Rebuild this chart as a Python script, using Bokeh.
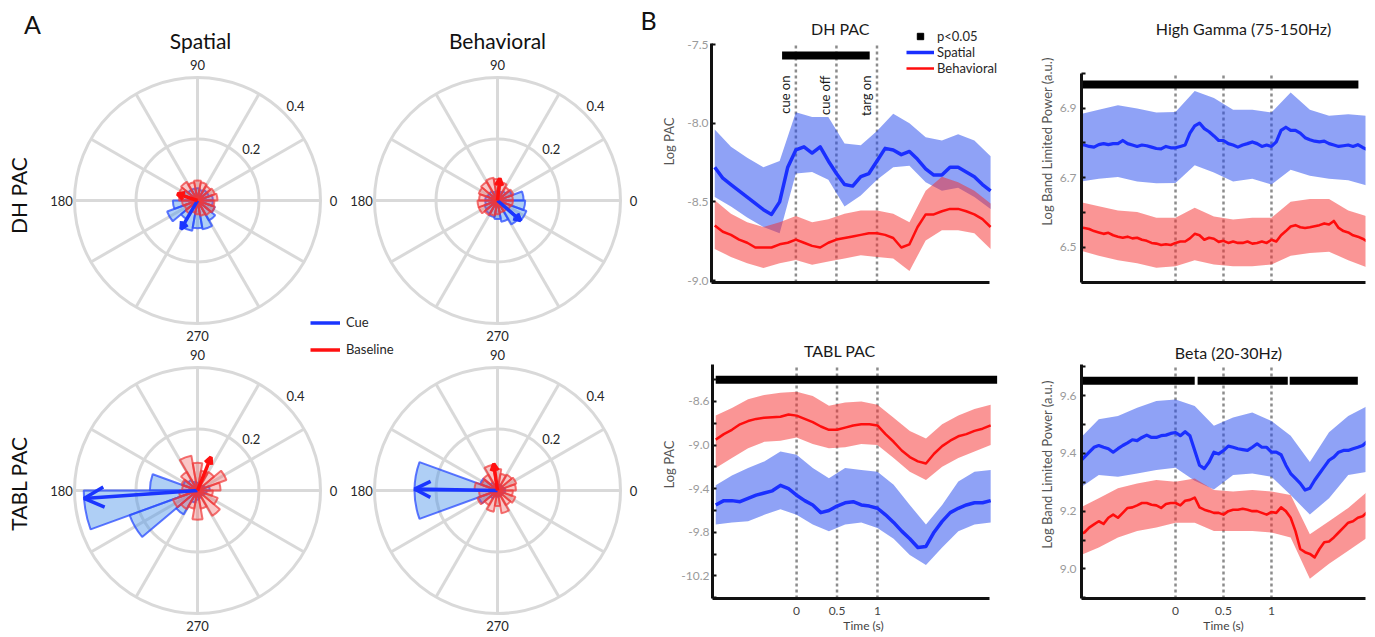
import numpy as np
from bokeh.plotting import figure
from bokeh.layouts import row, column
from bokeh.models import (Range1d, Label, Legend, LegendItem, FixedTicker,
                          PrintfTickFormatter, NumeralTickFormatter, Arrow, OpenHead)
from bokeh.embed import file_html
from bokeh.resources import INLINE
from bokeh.core.properties import value

FONT = "Lato"
TXT = "#262626"

# ===================== DATA =====================
# ---- A: polar rose histograms (18 bins of 20 deg) ----
bin_edges_deg = [0, 20, 40, 60, 80, 100, 120, 140, 160, 180, 200, 220, 240, 260, 280, 300, 320, 340, 360]
ring_r = [0.2, 0.4]
ring_labels = ["0.2", "0.4"]
spoke_deg = [0, 30, 60, 90, 120, 150, 180, 210, 240, 270, 300, 330]
angle_ticks = [0, 90, 180, 270]
angle_tick_labels = ["0", "90", "180", "270"]

cue_dh_spatial = [0.05, 0.04, 0.04, 0.035, 0.04, 0.04, 0.04, 0.05, 0.055,
                  0.08, 0.105, 0.07, 0.10, 0.09, 0.095, 0.075, 0.06, 0.05]
base_dh_spatial = [0.065, 0.06, 0.055, 0.06, 0.065, 0.06, 0.07, 0.065, 0.06,
                   0.05, 0.045, 0.05, 0.04, 0.045, 0.05, 0.055, 0.06, 0.055]
cue_dh_behav = [0.085, 0.05, 0.035, 0.03, 0.03, 0.03, 0.035, 0.035, 0.04,
                0.04, 0.045, 0.05, 0.055, 0.06, 0.07, 0.09, 0.10, 0.09]
base_dh_behav = [0.05, 0.055, 0.05, 0.06, 0.07, 0.075, 0.07, 0.065, 0.06,
                 0.065, 0.065, 0.055, 0.05, 0.045, 0.04, 0.04, 0.045, 0.05]
cue_tabl_spatial = [0.04, 0.025, 0.02, 0.02, 0.025, 0.03, 0.04, 0.05, 0.155,
                    0.37, 0.235, 0.09, 0.04, 0.03, 0.025, 0.02, 0.025, 0.03]
base_tabl_spatial = [0.075, 0.10, 0.07, 0.065, 0.09, 0.115, 0.07, 0.055, 0.05,
                     0.06, 0.085, 0.07, 0.06, 0.095, 0.06, 0.095, 0.07, 0.05]
cue_tabl_behav = [0.025, 0.02, 0.02, 0.02, 0.02, 0.02, 0.03, 0.06, 0.27,
                  0.27, 0.065, 0.03, 0.02, 0.02, 0.02, 0.02, 0.02, 0.025]
base_tabl_behav = [0.06, 0.065, 0.06, 0.055, 0.07, 0.085, 0.06, 0.055, 0.075,
                   0.06, 0.07, 0.055, 0.07, 0.05, 0.075, 0.055, 0.062, 0.05]

# mean-vector arrows: [DH spatial, DH behavioral, TABL spatial, TABL behavioral]
cue_arrow_deg = [240, 319, 184, 179]
cue_arrow_len = [0.107, 0.10, 0.37, 0.27]
base_arrow_deg = [162, 84, 68, 98]
base_arrow_len = [0.069, 0.072, 0.117, 0.088]

# ---- B: time courses ----
t_left = np.round(np.arange(-1.0, 2.401, 0.1), 2)      # 35 samples
tb_left = np.round(np.arange(-1.0, 2.401, 0.2), 2)     # 18 samples (error bands)
t_right = np.round(np.arange(-1.0, 2.001, 0.05), 2)    # 61 samples
tb_right = np.round(np.arange(-1.0, 2.001, 0.2), 2)    # 16 samples (error bands)

event_t = [0.0, 0.5, 1.0]
event_names = ["cue on", "cue off", "targ on"]

dh_sp_mean = [-8.28, -8.35, -8.39, -8.43, -8.47, -8.51, -8.55, -8.58, -8.50, -8.28,
              -8.17, -8.15, -8.19, -8.15, -8.24, -8.32, -8.39, -8.40, -8.34, -8.32,
              -8.24, -8.16, -8.17, -8.20, -8.18, -8.23, -8.29, -8.33, -8.33, -8.28,
              -8.28, -8.31, -8.34, -8.39, -8.43]
dh_bh_mean = [-8.65, -8.69, -8.71, -8.74, -8.76, -8.79, -8.79, -8.79, -8.77, -8.76,
              -8.74, -8.76, -8.78, -8.79, -8.76, -8.74, -8.73, -8.72, -8.71, -8.70,
              -8.70, -8.71, -8.73, -8.79, -8.77, -8.66, -8.58, -8.58, -8.56, -8.545,
              -8.545, -8.56, -8.58, -8.61, -8.66]
dh_sp_hi = [-8.04, -8.15, -8.22, -8.28, -8.24, -7.93, -7.96, -7.96, -8.13, -8.14,
            -8.05, -7.94, -8.00, -8.09, -8.11, -8.07, -8.11, -8.21]
dh_sp_lo = [-8.47, -8.53, -8.60, -8.66, -8.70, -8.32, -8.31, -8.36, -8.53, -8.46,
            -8.36, -8.28, -8.27, -8.375, -8.43, -8.41, -8.47, -8.545]
dh_bh_hi = [-8.49, -8.575, -8.63, -8.66, -8.63, -8.59, -8.63, -8.61, -8.575, -8.555,
            -8.555, -8.575, -8.63, -8.43, -8.34, -8.375, -8.43, -8.51]
dh_bh_lo = [-8.80, -8.85, -8.89, -8.92, -8.89, -8.87, -8.90, -8.88, -8.86, -8.84,
            -8.85, -8.86, -8.94, -8.745, -8.68, -8.68, -8.70, -8.80]

tabl_sp_mean = [-9.55, -9.51, -9.51, -9.52, -9.49, -9.46, -9.44, -9.42, -9.37, -9.40,
                -9.46, -9.51, -9.55, -9.62, -9.60, -9.56, -9.53, -9.52, -9.55, -9.56,
                -9.58, -9.64, -9.71, -9.79, -9.86, -9.94, -9.93, -9.80, -9.70, -9.62,
                -9.58, -9.55, -9.53, -9.53, -9.51]
tabl_bh_mean = [-8.95, -8.90, -8.86, -8.81, -8.78, -8.76, -8.75, -8.745, -8.74, -8.72,
                -8.73, -8.76, -8.79, -8.83, -8.86, -8.86, -8.84, -8.82, -8.81, -8.81,
                -8.82, -8.90, -8.97, -9.05, -9.11, -9.15, -9.17, -9.08, -9.01, -8.96,
                -8.92, -8.90, -8.87, -8.85, -8.82]
tabl_sp_hi = [-9.37, -9.28, -9.21, -9.15, -9.06, -9.09, -9.21, -9.305, -9.21, -9.23,
              -9.245, -9.365, -9.55, -9.73, -9.55, -9.335, -9.245, -9.23]
tabl_sp_lo = [-9.73, -9.71, -9.70, -9.64, -9.59, -9.64, -9.73, -9.79, -9.73, -9.71,
              -9.76, -9.86, -10.01, -10.10, -9.94, -9.79, -9.73, -9.71]
tabl_bh_hi = [-8.73, -8.66, -8.58, -8.54, -8.52, -8.51, -8.55, -8.64, -8.61, -8.60,
              -8.63, -8.75, -8.87, -8.94, -8.81, -8.73, -8.67, -8.63]
tabl_bh_lo = [-9.21, -9.12, -9.03, -8.97, -8.96, -8.93, -8.99, -9.03, -9.02, -8.99,
              -9.00, -9.12, -9.245, -9.32, -9.20, -9.12, -9.06, -9.00]

hg_sp_mean = [6.794, 6.794, 6.790, 6.788, 6.795, 6.798, 6.795, 6.798, 6.798, 6.807,
              6.798, 6.794, 6.790, 6.794, 6.792, 6.788, 6.784, 6.783, 6.790, 6.786,
              6.786, 6.790, 6.794, 6.828, 6.849, 6.857, 6.841, 6.832, 6.820, 6.807,
              6.807, 6.798, 6.794, 6.788, 6.794, 6.798, 6.803, 6.798, 6.790, 6.794,
              6.790, 6.803, 6.836, 6.845, 6.836, 6.836, 6.828, 6.815, 6.809, 6.805,
              6.803, 6.805, 6.798, 6.794, 6.790, 6.792, 6.794, 6.790, 6.795, 6.787,
              6.781]
hg_bh_mean = [6.558, 6.556, 6.553, 6.547, 6.543, 6.539, 6.542, 6.535, 6.531, 6.528,
              6.531, 6.526, 6.528, 6.522, 6.519, 6.513, 6.511, 6.507, 6.509, 6.507,
              6.513, 6.517, 6.517, 6.526, 6.539, 6.535, 6.522, 6.528, 6.525, 6.516,
              6.519, 6.513, 6.517, 6.513, 6.513, 6.517, 6.511, 6.513, 6.517, 6.513,
              6.522, 6.517, 6.535, 6.547, 6.560, 6.564, 6.558, 6.556, 6.558, 6.561,
              6.564, 6.569, 6.566, 6.576, 6.556, 6.547, 6.543, 6.535, 6.531, 6.525,
              6.517]
hg_sp_hi = [6.882, 6.895, 6.908, 6.899, 6.887, 6.889, 6.949, 6.929, 6.895, 6.895,
            6.887, 6.945, 6.895, 6.878, 6.882, 6.878]
hg_sp_lo = [6.689, 6.697, 6.702, 6.689, 6.684, 6.685, 6.736, 6.715, 6.689, 6.697,
            6.681, 6.723, 6.706, 6.697, 6.693, 6.677]
hg_bh_hi = [6.631, 6.618, 6.606, 6.602, 6.585, 6.585, 6.614, 6.589, 6.580, 6.585,
            6.585, 6.631, 6.639, 6.639, 6.606, 6.589]
hg_bh_lo = [6.492, 6.476, 6.463, 6.455, 6.442, 6.446, 6.463, 6.451, 6.446, 6.446,
            6.451, 6.476, 6.484, 6.488, 6.463, 6.442]

beta_sp_mean = [9.370, 9.387, 9.404, 9.421, 9.427, 9.421, 9.416, 9.404, 9.416, 9.427,
                9.436, 9.447, 9.444, 9.455, 9.463, 9.455, 9.455, 9.461, 9.463, 9.469,
                9.472, 9.461, 9.475, 9.461, 9.410, 9.359, 9.347, 9.370, 9.404, 9.398,
                9.410, 9.425, 9.421, 9.416, 9.413, 9.410, 9.421, 9.433, 9.421, 9.421,
                9.404, 9.404, 9.395, 9.359, 9.330, 9.313, 9.296, 9.273, 9.279, 9.307,
                9.330, 9.353, 9.376, 9.387, 9.404, 9.410, 9.410, 9.416, 9.421, 9.427,
                9.441]
beta_bh_mean = [9.120, 9.126, 9.143, 9.154, 9.165, 9.156, 9.177, 9.188, 9.177, 9.194,
                9.211, 9.213, 9.220, 9.228, 9.228, 9.222, 9.220, 9.211, 9.225, 9.228,
                9.228, 9.220, 9.236, 9.239, 9.247, 9.213, 9.205, 9.200, 9.194, 9.194,
                9.188, 9.200, 9.205, 9.205, 9.208, 9.205, 9.200, 9.200, 9.194, 9.188,
                9.197, 9.194, 9.213, 9.200, 9.177, 9.131, 9.069, 9.058, 9.052, 9.040,
                9.069, 9.092, 9.095, 9.109, 9.126, 9.143, 9.160, 9.165, 9.177, 9.182,
                9.197]
beta_sp_hi = [9.450, 9.518, 9.529, 9.558, 9.581, 9.586, 9.564, 9.495, 9.524, 9.541,
              9.512, 9.461, 9.370, 9.473, 9.529, 9.564]
beta_sp_lo = [9.279, 9.325, 9.319, 9.330, 9.342, 9.350, 9.305, 9.275, 9.325, 9.330,
              9.319, 9.256, 9.188, 9.245, 9.325, 9.336]
beta_bh_hi = [9.211, 9.245, 9.279, 9.296, 9.308, 9.302, 9.313, 9.273, 9.268, 9.273,
              9.268, 9.256, 9.120, 9.165, 9.211, 9.268]
beta_bh_lo = [9.046, 9.074, 9.109, 9.131, 9.143, 9.160, 9.160, 9.131, 9.131, 9.131,
              9.126, 9.109, 8.966, 9.018, 9.063, 9.109]

# significance (p<0.05) intervals
sig_dh_start, sig_dh_end, sig_dh_y = [-0.17], [0.91], -7.57
sig_hg_start, sig_hg_end, sig_hg_y = [-0.99], [1.906], 6.968
sig_tabl_start, sig_tabl_end, sig_tabl_y = [-1.0], [2.48], -8.40
sig_beta_start, sig_beta_end, sig_beta_y = [-0.98, 0.23, 1.19], [0.20, 1.17, 1.90], 9.651

# ===================== STYLE =====================
GRID = "#d9d9d9"
CUE_FILL, CUE_LINE, CUE_ARROW = "#4d94e8", "#2a4bff", "#1a35ff"
BASE_FILL, BASE_LINE, BASE_ARROW = "#f05050", "#f03838", "#ff1010"
LINE_BLUE, BAND_BLUE = "#1a2fff", "#1f45ee"
LINE_RED, BAND_RED = "#ff0d0d", "#f52c2c"

# ===================== PANEL A: POLAR =====================
S = 307.5                    # pixels per unit of vector length
PW, PH = 658, 635
pol = figure(width=PW, height=PH, x_range=Range1d(0, PW / S), y_range=Range1d(0, PH / S),
             x_axis_type=None, y_axis_type=None, toolbar_location=None,
             output_backend="svg", min_border=0, outline_line_color=None)


def P(px, py):
    return px / S, (PH - py) / S


polar_sets = [((197, 200), cue_dh_spatial, base_dh_spatial),
              ((497, 200), cue_dh_behav, base_dh_behav),
              ((197, 490), cue_tabl_spatial, base_tabl_spatial),
              ((497, 490), cue_tabl_behav, base_tabl_behav)]

edges = np.deg2rad(bin_edges_deg)
r_out = max(ring_r)
cx_all, cy_all = [], []
for i, (cpx, cue, base) in enumerate(polar_sets):
    cx, cy = P(*cpx)
    cx_all.append(cx)
    cy_all.append(cy)
    pol.circle(x=[cx] * len(ring_r), y=[cy] * len(ring_r), radius=ring_r,
               fill_color=None, line_color=GRID, line_width=3)
    sa = np.deg2rad(spoke_deg)
    pol.segment(x0=[cx] * len(sa), y0=[cy] * len(sa), x1=cx + r_out * np.cos(sa),
                y1=cy + r_out * np.sin(sa), line_color=GRID, line_width=3)
    pol.wedge(x=[cx] * len(cue), y=[cy] * len(cue), radius=cue,
              start_angle=edges[:-1], end_angle=edges[1:],
              fill_color=CUE_FILL, fill_alpha=0.45, line_color=CUE_LINE,
              line_alpha=0.75, line_width=2)
    pol.wedge(x=[cx] * len(base), y=[cy] * len(base), radius=base,
              start_angle=edges[:-1], end_angle=edges[1:],
              fill_color=BASE_FILL, fill_alpha=0.32, line_color=BASE_LINE,
              line_alpha=0.7, line_width=2)
    ta = np.deg2rad(angle_ticks)
    pol.text(x=cx + 0.442 * np.cos(ta), y=cy + 0.442 * np.sin(ta), text=angle_tick_labels,
             text_align="center", text_baseline="middle", text_font=value(FONT),
             text_font_size="13px", text_color=TXT)
    ra = np.deg2rad(44)
    rr = np.array(ring_r) + 0.043
    pol.text(x=cx + rr * np.cos(ra), y=cy + rr * np.sin(ra), text=ring_labels,
             text_align="center", text_baseline="middle", text_font=value(FONT),
             text_font_size="13px", text_color=TXT)

cx_all = np.array(cx_all)
cy_all = np.array(cy_all)
arrow_renderers = []
for ang_l, len_l, col in ((cue_arrow_deg, cue_arrow_len, CUE_ARROW),
                          (base_arrow_deg, base_arrow_len, BASE_ARROW)):
    a = np.deg2rad(ang_l)
    L = np.array(len_l)
    xe = cx_all + L * np.cos(a)
    ye = cy_all + L * np.sin(a)
    arrow_renderers.append(pol.segment(x0=cx_all, y0=cy_all, x1=xe, y1=ye,
                                       line_color=col, line_width=3.5))
    for k in range(len(L)):
        hs = 20 if L[k] > 0.3 else (16 if L[k] > 0.2 else 7)
        pol.add_layout(Arrow(end=OpenHead(size=hs, line_color=col, line_width=3.5),
                             x_start=cx_all[k], y_start=cy_all[k], x_end=xe[k], y_end=ye[k],
                             line_alpha=0))

for txt, (px, py), size, ang in (("A", (32, 23), "25px", 0),
                                 ("B", (648, 19), "25px", 0),
                                 ("Spatial", (200, 40), "21px", 0),
                                 ("Behavioral", (497, 40), "21px", 0),
                                 ("DH PAC", (18, 195), "21px", np.pi / 2),
                                 ("TABL PAC", (18, 483), "21px", np.pi / 2)):
    x, y = P(px, py)
    pol.add_layout(Label(x=x, y=y, text=txt, text_font=FONT, text_font_size=size,
                         text_align="center", text_baseline="middle", angle=ang,
                         text_color="#111111"))

pol.add_layout(Legend(items=[LegendItem(label="Cue", renderers=[arrow_renderers[0]]),
                             LegendItem(label="Baseline", renderers=[arrow_renderers[1]])],
                      location=(310, PH - 357), glyph_width=30, glyph_height=15,
                      label_height=15, label_standoff=6, spacing=11, padding=0, margin=0,
                      border_line_color=None, background_fill_alpha=0,
                      label_text_font=FONT, label_text_font_size="13px",
                      label_text_color=TXT))

# ===================== PANEL B: TIME COURSES =====================


def page_to_data(box, xr, yr, px, py):
    l, t, r, b = box
    return (xr[0] + (px - l) / (r - l) * (xr[1] - xr[0]),
            yr[1] - (py - t) / (b - t) * (yr[1] - yr[0]))


def make_ts(width, height, mbl, mbr, mbb, xr, yr):
    p = figure(width=width, height=height, x_range=Range1d(*xr), y_range=Range1d(*yr),
               toolbar_location=None, output_backend="svg",
               min_border_left=mbl, min_border_right=mbr,
               min_border_top=0, min_border_bottom=mbb, outline_line_color=None)
    p.grid.visible = False
    return p


def style_ts(p, yticks, yminor, ybounds, xbounds, ylabel, lab_standoff, tick_standoff, bottom):
    ax = p.yaxis[0]
    ax.ticker = FixedTicker(ticks=yticks, minor_ticks=yminor)
    ax.formatter = PrintfTickFormatter(format="%.1f")
    ax.bounds = ybounds
    ax.axis_line_width = 3
    ax.axis_line_color = "#111111"
    ax.major_tick_in, ax.major_tick_out = 4, 0
    ax.minor_tick_in, ax.minor_tick_out = 4, 0
    ax.major_tick_line_width = 2
    ax.minor_tick_line_width = 2
    ax.major_tick_line_color = "#111111"
    ax.minor_tick_line_color = "#111111"
    ax.major_label_text_font = FONT
    ax.major_label_text_font_size = "12px"
    ax.major_label_text_color = "#9a9a9a"
    ax.major_label_standoff = tick_standoff
    ax.axis_label = ylabel
    ax.axis_label_text_font = FONT
    ax.axis_label_text_font_size = "13px"
    ax.axis_label_text_font_style = "normal"
    ax.axis_label_text_color = "#555555"
    ax.axis_label_standoff = lab_standoff
    xa = p.xaxis[0]
    xa.bounds = xbounds
    xa.axis_line_width = 3
    xa.axis_line_color = "#111111"
    xa.major_tick_in, xa.major_tick_out = 0, 0
    xa.minor_tick_in, xa.minor_tick_out = 0, 0
    if bottom:
        xa.ticker = FixedTicker(ticks=event_t)
        xa.formatter = NumeralTickFormatter(format="0.[0]")
        xa.major_label_text_font = FONT
        xa.major_label_text_font_size = "12px"
        xa.major_label_text_color = "#444444"
        xa.major_label_standoff = 8
        xa.axis_label = "Time (s)"
        xa.axis_label_text_font = FONT
        xa.axis_label_text_font_size = "12px"
        xa.axis_label_text_font_style = "normal"
        xa.axis_label_text_color = "#444444"
        xa.axis_label_standoff = 0
    else:
        xa.ticker = FixedTicker(ticks=[])
    n = len(event_t)
    p.segment(x0=event_t, y0=[ybounds[0]] * n, x1=event_t, y1=[ybounds[1]] * n,
              line_color="#8c8c8c", line_dash="3 3", line_width=2.5)


def draw_series(p, t, tb, sp_mean, sp_lo, sp_hi, bh_mean, bh_lo, bh_hi, lw_b=3.5, lw_r=2.5):
    p.varea(x=tb, y1=sp_lo, y2=sp_hi, fill_color=BAND_BLUE, fill_alpha=0.5)
    p.varea(x=tb, y1=bh_lo, y2=bh_hi, fill_color=BAND_RED, fill_alpha=0.5)
    rs = p.line(t, sp_mean, line_color=LINE_BLUE, line_width=lw_b, line_join="round")
    rb = p.line(t, bh_mean, line_color=LINE_RED, line_width=lw_r, line_join="round")
    return rs, rb


def draw_sig(p, starts, ends, yv):
    return p.segment(x0=starts, y0=[yv] * len(starts), x1=ends, y1=[yv] * len(starts),
                     line_color="black", line_width=8, line_cap="butt")


def title(p, box, xr, yr, txt, px, py, size="16px"):
    x, y = page_to_data(box, xr, yr, px, py)
    p.add_layout(Label(x=x, y=y, text=txt, text_font=FONT, text_font_size=size,
                       text_align="center", text_baseline="middle", text_color="#1a1a1a"))


# left-column time axis: 82 px per second, axis drawn over [-1.04, 2.39]
XL_AX = (-1.04, 2.39)
XL = (-1.04, 2.39 + 25 / 82.0)
XR_AX = (-0.98, 1.98)
XR = (-0.98, 1.98)
# frame (page px) boxes and ranges
BOX_DH = (708, 0, 1014, 282)
BOX_HG = (1081, 0, 1365, 282)
BOX_TABL = (708, 330, 1014, 602)
BOX_BETA = (1081, 330, 1365, 602)
Y_DH, B_DH = (-9.0127, -7.2203), (-9.0127, -7.493)
Y_HG, B_HG = (6.3994, 7.2088), (6.3994, 7.0)
Y_TABL, B_TABL = (-10.408, -7.949), (-10.408, -8.2655)
Y_BETA, B_BETA = (8.8977, 9.825), (8.8977, 9.7057)

# DH PAC
dh = make_ts(372, 330, 50, 16, 48, XL, Y_DH)
style_ts(dh, [-9.0, -8.5, -8.0, -7.5], [], B_DH, XL_AX, "Log PAC", 7, 3, False)
rs, rb = draw_series(dh, t_left, tb_left, dh_sp_mean, dh_sp_lo, dh_sp_hi,
                     dh_bh_mean, dh_bh_lo, dh_bh_hi)
draw_sig(dh, sig_dh_start, sig_dh_end, sig_dh_y)
_, ev_y = page_to_data(BOX_DH, XL, Y_DH, 0, 75)
dh.text(x=event_t, y=[ev_y] * len(event_t), text=event_names, angle=np.pi / 2,
        text_align="right", text_baseline="bottom", x_offset=-3,
        text_font=value(FONT), text_font_size="13px", text_color="#1a1a1a")
sq = dh.scatter(x=[np.nan], y=[np.nan], marker="square", size=10, color="black")
dh.add_layout(Legend(items=[LegendItem(label="p<0.05", renderers=[sq]),
                            LegendItem(label="Spatial", renderers=[rs]),
                            LegendItem(label="Behavioral", renderers=[rb])],
                     location=(195, 206), glyph_width=28, glyph_height=16, label_height=14,
                     label_standoff=3, spacing=0, padding=0, margin=0,
                     border_line_color=None, background_fill_alpha=0,
                     label_text_font=FONT, label_text_font_size="13px",
                     label_text_color=TXT))
title(dh, BOX_DH, XL, Y_DH, "DH PAC", 838, 28)

# High gamma
hg = make_ts(343, 330, 51, 8, 48, XR, Y_HG)
style_ts(hg, [6.5, 6.7, 6.9], [6.4, 6.6, 6.8, 7.0], B_HG, XR_AX,
         "Log Band Limited Power (a.u.)", 2, 5, False)
draw_series(hg, t_right, tb_right, hg_sp_mean, hg_sp_lo, hg_sp_hi,
            hg_bh_mean, hg_bh_lo, hg_bh_hi, 3.2, 2.6)
draw_sig(hg, sig_hg_start, sig_hg_end, sig_hg_y)
title(hg, BOX_HG, XR, Y_HG, "High Gamma (75-150Hz)", 1243, 28)

# TABL PAC
tabl = make_ts(372, 305, 50, 16, 33, XL, Y_TABL)
style_ts(tabl, [-10.2, -9.8, -9.4, -9.0, -8.6], [-10.4, -10.0, -9.6, -9.2, -8.8, -8.4],
         B_TABL, XL_AX, "Log PAC", 1, 3, True)
draw_series(tabl, t_left, tb_left, tabl_sp_mean, tabl_sp_lo, tabl_sp_hi,
            tabl_bh_mean, tabl_bh_lo, tabl_bh_hi)
draw_sig(tabl, sig_tabl_start, sig_tabl_end, sig_tabl_y)
title(tabl, BOX_TABL, XL, Y_TABL, "TABL PAC", 837, 350)

# Beta
beta = make_ts(343, 305, 51, 8, 33, XR, Y_BETA)
style_ts(beta, [9.0, 9.2, 9.4, 9.6], [8.9, 9.1, 9.3, 9.5, 9.7], B_BETA, XR_AX,
         "Log Band Limited Power (a.u.)", 2, 5, True)
draw_series(beta, t_right, tb_right, beta_sp_mean, beta_sp_lo, beta_sp_hi,
            beta_bh_mean, beta_bh_lo, beta_bh_hi, 3.2, 2.6)
draw_sig(beta, sig_beta_start, sig_beta_end, sig_beta_y)
title(beta, BOX_BETA, XR, Y_BETA, "Beta (20-30Hz)", 1228, 352)

layout = row(pol, column(row(dh, hg), row(tabl, beta)))

open("out.html", "w").write(file_html(layout, INLINE))
